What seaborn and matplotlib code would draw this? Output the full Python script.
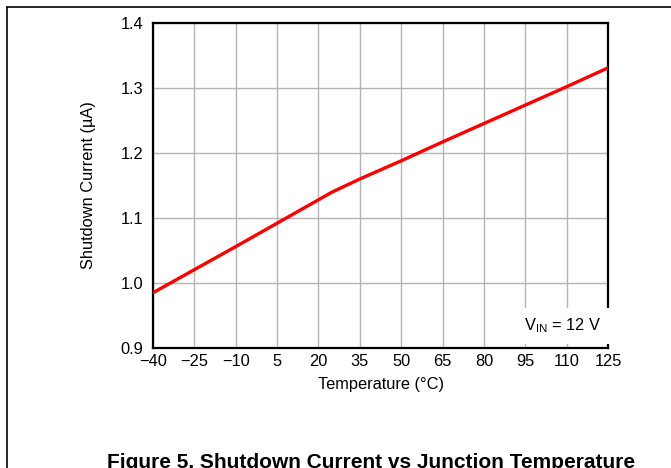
import matplotlib
matplotlib.use("Agg")
import matplotlib.pyplot as plt
import seaborn as sns
import pandas as pd
from matplotlib.lines import Line2D

temps = [-40, -10, 5, 20, 25, 35, 50, 65, 110, 125]
current = [0.985, 1.056, 1.092, 1.128, 1.140, 1.160, 1.188, 1.217, 1.302, 1.331]
xticks = [-40, -25, -10, 5, 20, 35, 50, 65, 80, 95, 110, 125]
yticks = [0.9, 1.0, 1.1, 1.2, 1.3, 1.4]

sns.set_theme(style="white")
plt.rcParams['font.family'] = ['Liberation Sans', 'DejaVu Sans']
plt.rcParams['axes.unicode_minus'] = True

fig = plt.figure(figsize=(6.71, 4.68), dpi=100)
W, H = 671, 468
ax = fig.add_axes([153 / W, 1 - 348 / H, (608 - 153) / W, (348 - 23) / H])

df = pd.DataFrame({"T": temps, "I": current})
sns.lineplot(data=df, x="T", y="I", ax=ax, color="#ff0000", linewidth=2.4, zorder=3)

ax.set_xlim(-40, 125)
ax.set_ylim(0.9, 1.4)
ax.set_xticks(xticks)
ax.set_xticklabels([f"{t}".replace("-", "\u2212") for t in xticks])
ax.set_yticks(yticks)
ax.set_yticklabels([f"{v:.1f}" for v in yticks])
ax.tick_params(axis="both", length=0, labelsize=11.8, colors="black")
ax.tick_params(axis="y", pad=7)
ax.tick_params(axis="x", pad=4)
ax.grid(True, color="#b4b4b4", linewidth=1.0)
ax.set_axisbelow(True)
for s in ax.spines.values():
    s.set_color("black")
    s.set_linewidth(1.6)
    s.set_visible(True)

ax.set_xlabel("Temperature (°C)", fontsize=11.8, color="black")
ax.set_ylabel("Shutdown Current (µA)", fontsize=11.8, color="black")
ax.xaxis.label.set_va("center")
ax.yaxis.label.set_va("center")
ax.xaxis.set_label_coords(0.5, -(385 - 348) / 325)
ax.yaxis.set_label_coords((89 - 153) / 455, 0.5)

ax.text(0.985, 0.068, r"V$_{\mathregular{IN}}$ = 12 V", transform=ax.transAxes,
        ha="right", va="center", fontsize=11.8, color="black", zorder=4,
        bbox=dict(facecolor="white", edgecolor="none", pad=6))

fig.add_artist(Line2D([7 / W, 1], [1 - 7 / H, 1 - 7 / H], color="black", linewidth=1.2))
fig.add_artist(Line2D([7 / W, 7 / W], [0, 1 - 7 / H], color="black", linewidth=1.2))

fig.text(371 / W, 1 - 468 / H, "Figure 5. Shutdown Current vs Junction Temperature",
         ha="center", va="baseline", fontsize=15, fontweight="bold", color="black")

fig.savefig("out.png", dpi=100)
